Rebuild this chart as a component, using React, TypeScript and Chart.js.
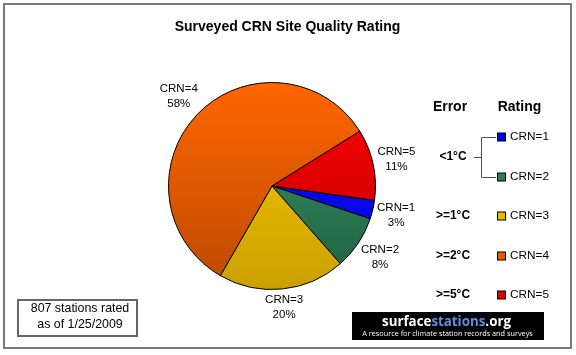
import React, { useEffect, useRef } from "react";
import { Chart, registerables } from "chart.js";

Chart.register(...registerables);

const categories = ["CRN=1", "CRN=2", "CRN=3", "CRN=4", "CRN=5"];
const shares = [2.9, 8.4, 19.8, 57.8, 11.1];
const topColors = ["#1010FF", "#389C6A", "#FFCC00", "#FF6600", "#FF0000"];
const bottomColors = ["#0000D8", "#1F5E3F", "#C9A000", "#BC4A00", "#BB0000"];
const legendColors = ["#0000FF", "#2E7D55", "#E6B800", "#E65C00", "#E00000"];
const errorLabels = ["<1°C", ">=1°C", ">=2°C", ">=5°C"];
const titleText = "Surveyed CRN Site Quality Rating";
const noteLines = ["807 stations rated", "as of 1/25/2009"];
const logoParts = ["surface", "stations", ".org"];
const logoTagline = "A resource for climate station records and surveys";

const FONT = '"Liberation Sans", Arial, sans-serif';

const overlay = {
  id: "overlay",
  beforeDraw(chart: any) {
    const ctx = chart.ctx;
    ctx.save();
    ctx.fillStyle = "#ffffff";
    ctx.fillRect(0, 0, chart.width, chart.height);
    ctx.strokeStyle = "#7a7a7a";
    ctx.lineWidth = 2;
    ctx.strokeRect(4, 4, 567, 344);
    ctx.restore();
  },
  afterDraw(chart: any) {
    const ctx = chart.ctx;
    ctx.save();
    // title
    ctx.fillStyle = "#000";
    ctx.font = `bold 14px ${FONT}`;
    ctx.textAlign = "center";
    ctx.textBaseline = "middle";
    ctx.fillText(titleText, 287.5, 27);

    // slice labels
    const meta = chart.getDatasetMeta(0);
    const total = shares.reduce((a, b) => a + b, 0);
    ctx.font = `11.5px ${FONT}`;
    meta.data.forEach((arc: any, i: number) => {
      const p = arc.getProps(["x", "y", "startAngle", "endAngle", "outerRadius"], true);
      const mid = (p.startAngle + p.endAngle) / 2;
      const c = Math.cos(mid), s = Math.sin(mid);
      const pct = Math.round((shares[i] / total) * 100) + "%";
      const w = Math.max(ctx.measureText(categories[i]).width, ctx.measureText(pct).width);
      const h = 30;
      const d = p.outerRadius + 2 + Math.abs(c) * w / 2 + Math.abs(s) * h / 2;
      const cx = p.x + c * d, cy = p.y + s * d;
      ctx.fillStyle = "#000";
      ctx.fillText(categories[i], cx, cy - 7.5);
      ctx.fillText(pct, cx, cy + 7.5);
    });

    // legend headers
    ctx.font = `bold 14px ${FONT}`;
    ctx.fillText("Error", 450, 107);
    ctx.fillText("Rating", 519.5, 107);

    const rowY = [137, 177, 216, 256, 295];
    // error labels
    ctx.font = `bold 12px ${FONT}`;
    ctx.textAlign = "center";
    ctx.fillText(errorLabels[0], 453, 157);
    for (let k = 1; k < errorLabels.length; k++) {
      ctx.fillText(errorLabels[k], 453, rowY[k + 1]);
    }
    // bracket
    ctx.strokeStyle = "#505050";
    ctx.lineWidth = 1;
    ctx.beginPath();
    ctx.moveTo(474, 157.5);
    ctx.lineTo(481.5, 157.5);
    ctx.moveTo(481.5, 137.5);
    ctx.lineTo(481.5, 177.5);
    ctx.moveTo(481.5, 137.5);
    ctx.lineTo(496, 137.5);
    ctx.moveTo(481.5, 177.5);
    ctx.lineTo(496, 177.5);
    ctx.stroke();

    // rating entries
    ctx.font = `11.8px ${FONT}`;
    ctx.textAlign = "left";
    categories.forEach((cat, i) => {
      const y = rowY[i];
      ctx.fillStyle = legendColors[i];
      ctx.fillRect(497.5, y - 4, 8, 8);
      ctx.strokeStyle = "#000";
      ctx.strokeRect(497.5, y - 4, 8, 8);
      ctx.fillStyle = "#000";
      ctx.fillText(cat, 510, y);
    });

    // note box
    ctx.strokeStyle = "#666";
    ctx.lineWidth = 2;
    ctx.strokeRect(18, 300, 119, 36);
    ctx.fillStyle = "#000";
    ctx.font = `12.4px ${FONT}`;
    ctx.textAlign = "center";
    ctx.fillText(noteLines[0], 80, 309);
    ctx.fillText(noteLines[1], 80, 325);

    // logo
    ctx.fillStyle = "#000";
    ctx.fillRect(352, 312, 192, 28);
    const logoFont = (px: number) => `bold ${px}px "Open Sans", ${FONT}`;
    ctx.font = logoFont(16);
    const full = logoParts.join("");
    const fw = ctx.measureText(full).width;
    const size = 16 * 129 / fw;
    ctx.font = logoFont(size);
    ctx.textAlign = "left";
    let x = 382;
    const logoColors = ["#ffffff", "#5E8FE0", "#ffffff"];
    logoParts.forEach((part, i) => {
      ctx.fillStyle = logoColors[i];
      ctx.fillText(part, x, 322);
      x += ctx.measureText(part).width;
    });
    ctx.font = `7px "Open Sans", ${FONT}`;
    const tw = ctx.measureText(logoTagline).width;
    const ts = 7 * 171 / tw;
    ctx.font = `${ts}px "Open Sans", ${FONT}`;
    ctx.fillStyle = "#ffffff";
    ctx.textAlign = "center";
    ctx.fillText(logoTagline, 447.5, 334);

    ctx.restore();
  },
};

export default function App() {
  const ref = useRef<HTMLCanvasElement | null>(null);
  useEffect(() => {
    if (!ref.current) return;
    const chart = new Chart(ref.current, {
      type: "pie",
      data: {
        labels: categories,
        datasets: [
          {
            data: shares,
            backgroundColor: (ctx: any) => {
              const area = ctx.chart.chartArea;
              const i = ctx.dataIndex;
              if (!area) return topColors[i];
              const g = ctx.chart.ctx.createLinearGradient(0, area.top, 0, area.bottom);
              g.addColorStop(0, topColors[i]);
              g.addColorStop(1, bottomColors[i]);
              return g;
            },
            borderColor: "#000",
            borderWidth: 1,
          },
        ],
      },
      options: {
        responsive: false,
        animation: false,
        rotation: 98,
        layout: { padding: { left: 168, right: 200, top: 82, bottom: 65 } },
        plugins: {
          legend: { display: false },
          tooltip: { enabled: false },
          title: { display: false },
        },
      },
      plugins: [overlay],
    });
    return () => chart.destroy();
  }, []);
  return (
    <div style={{ position: "absolute", left: 0, top: 0, width: 576, height: 355 }}>
      <canvas ref={ref} width={576} height={355} style={{ display: "block" }} />
    </div>
  );
}
